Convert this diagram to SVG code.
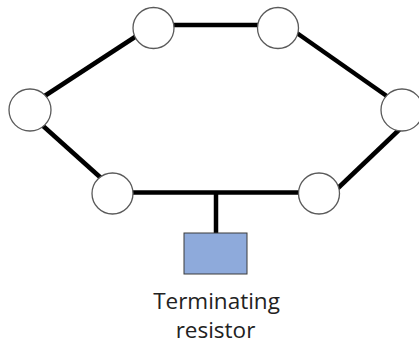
<svg xmlns="http://www.w3.org/2000/svg" width="419" height="345" viewBox="0 0 419 345">
<style>
.bus{stroke:#000;stroke-width:4.5;stroke-linecap:butt;fill:none}
.node{fill:#fff;stroke:#5a5a5a;stroke-width:1.3}
.res{fill:#8eaadb;stroke:#3a3a3a;stroke-width:1}
.lbl{font-family:"Open Sans","Liberation Sans",sans-serif;font-size:22.5px;fill:#222;text-anchor:middle}
</style>
<rect width="419" height="345" fill="#fff"/>
<g id="connectors">
<line class="bus" x1="170" y1="25" x2="262" y2="25"/>
<line class="bus" x1="138" y1="35" x2="40" y2="99"/>
<line class="bus" x1="294" y1="31" x2="391" y2="99"/>
<line class="bus" x1="42" y1="125" x2="101" y2="178"/>
<line class="bus" x1="336" y1="190" x2="401" y2="128"/>
<line class="bus" x1="130" y1="192.5" x2="302" y2="192.5"/>
<line class="bus" x1="216" y1="192.5" x2="216" y2="234"/>
</g>
<g id="n1"><circle class="node" cx="153.5" cy="28" r="20.5"/></g>
<g id="n2"><circle class="node" cx="278" cy="28" r="20.5"/></g>
<g id="n3"><circle class="node" cx="30" cy="110" r="21"/></g>
<g id="n4"><circle class="node" cx="402" cy="110" r="21"/></g>
<g id="n5"><circle class="node" cx="112.5" cy="193.5" r="20.5"/></g>
<g id="n6"><circle class="node" cx="319" cy="193.5" r="20.5"/></g>
<g id="resistor">
<rect class="res" x="184" y="233" width="63" height="41"/>
<text class="lbl" x="216.5" y="309">Terminating</text>
<text class="lbl" x="215.5" y="338">resistor</text>
</g>
</svg>
